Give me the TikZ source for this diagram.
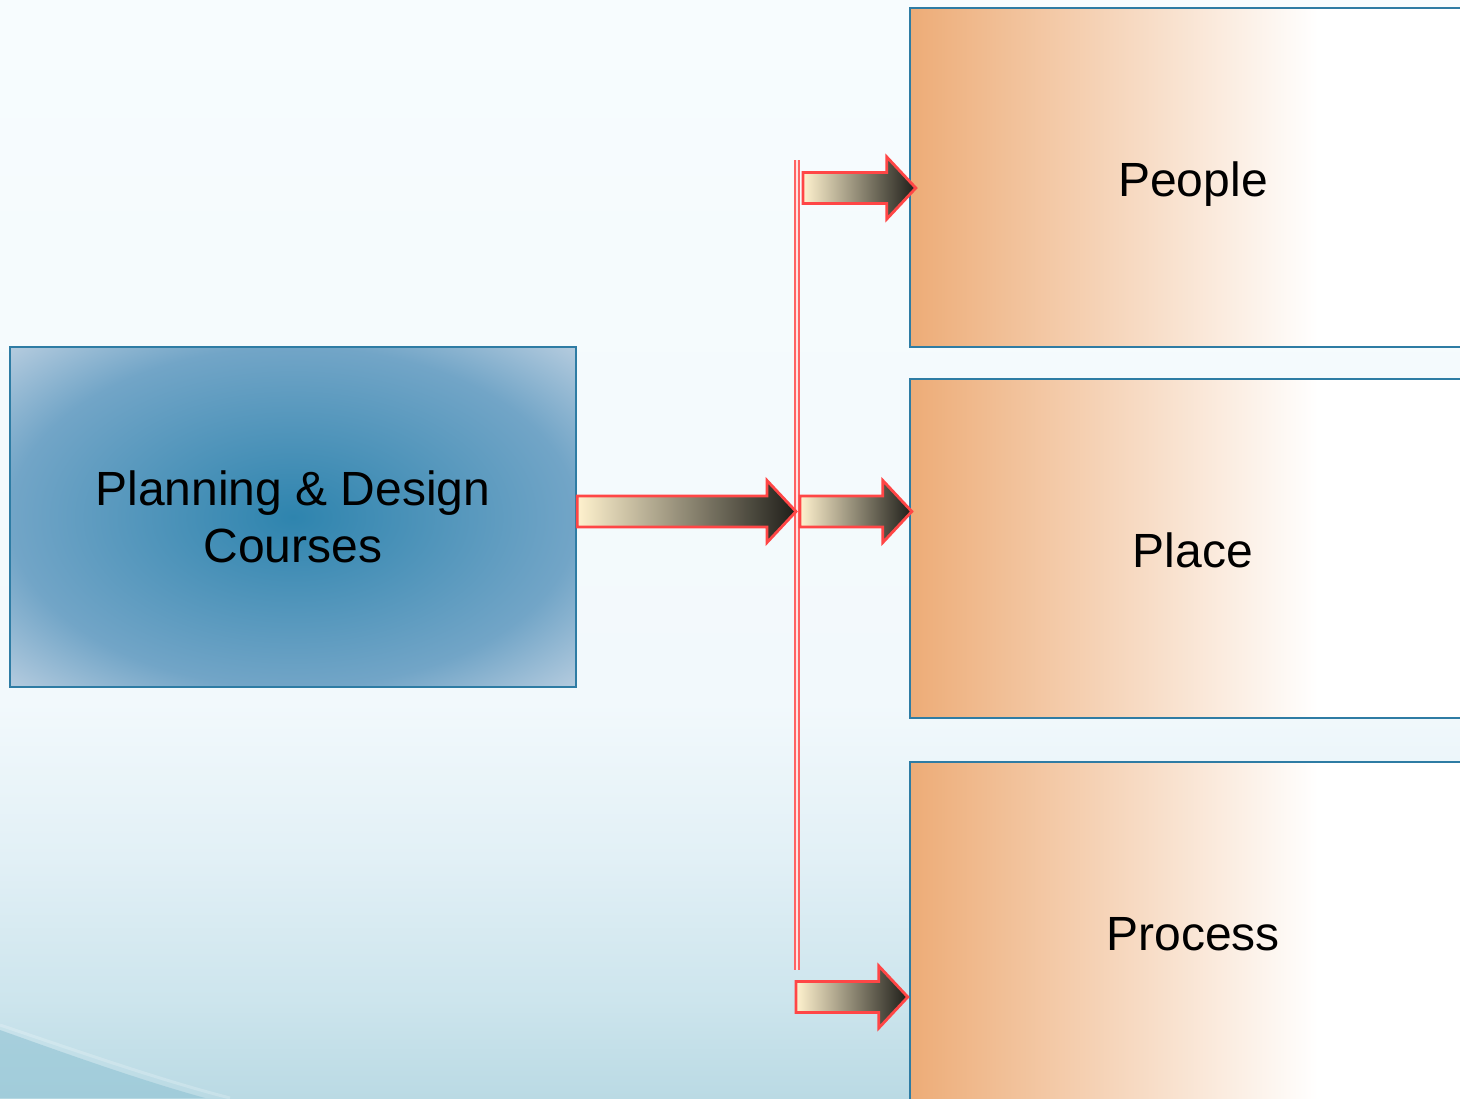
\documentclass[tikz,border=0pt]{standalone}
\usepackage{fontspec}
\setmainfont{Liberation Sans}
\usetikzlibrary{calc}

\definecolor{boxline}{HTML}{2E7CA4}
\definecolor{orng}{HTML}{EDAC77}
\definecolor{glowin}{HTML}{2E84AE}
\definecolor{glowmid}{HTML}{72A5C7}
\definecolor{glowout}{HTML}{B9CEE0}
\definecolor{arrred}{HTML}{FF4646}
\definecolor{arrlight}{HTML}{FFF2CE}
\definecolor{arrdark}{HTML}{1E1E19}
\definecolor{bgtop}{HTML}{F7FCFE}
\definecolor{bgmid}{HTML}{F2F9FC}
\definecolor{bglow}{HTML}{E2F0F6}
\definecolor{bgdeep}{HTML}{CDE5ED}
\definecolor{bgbot}{HTML}{BADAE4}
\definecolor{swoosh}{HTML}{8DC1D2}

\pgfdeclarehorizontalshading{orangefade}{100bp}{color(0bp)=(orng); color(25bp)=(orng); color(61bp)=(white); color(100bp)=(white)}
\pgfdeclareradialshading{planglow}{\pgfpoint{0bp}{0bp}}{color(0bp)=(glowin); color(25bp)=(glowmid); color(36bp)=(glowout); color(50bp)=(glowout)}
\pgfdeclareverticalshading{bgfade}{100bp}{color(0bp)=(bgbot); color(25bp)=(bgbot); color(29.5bp)=(bgdeep); color(36bp)=(bglow); color(43bp)=(bgmid); color(75bp)=(bgtop); color(100bp)=(bgtop)}

\tikzset{
  source/.style={draw=boxline, line width=1.2pt, shading=planglow, minimum width=283pt, minimum height=170pt, inner sep=0pt, align=center, font=\fontsize{24}{28.5}\selectfont},
  topic/.style={draw=boxline, line width=1.2pt, shading=orangefade, minimum width=283pt, minimum height=169.5pt, inner sep=0pt, text height=17.2pt, text depth=0pt, font=\fontsize{24}{28.5}\selectfont},
  blockarr/.style={draw=arrred, line width=1.4pt, left color=arrlight, right color=arrdark, line join=miter},
  bus/.style={draw=arrred!85, line width=0.7pt, double=white!85!arrred, double distance=1.2pt}
}

% arrow body from tail (#1) to tip (#2), both on one level
\newcommand{\blockarrow}[2]{%
  \draw[blockarr] ($(#1)+(0,-15.5)$) -- ($(#2)+(-29,-15.5)$) -- ($(#2)+(-29,-31)$)
    -- (#2) -- ($(#2)+(-29,31)$) -- ($(#2)+(-29,15.5)$) -- ($(#1)+(0,15.5)$) -- cycle;}

\begin{document}
\begin{tikzpicture}[x=0.5pt,y=-0.5pt]
        \useasboundingbox (0,0) rectangle (1460,1098);
        \clip (0,0) rectangle (1460,1098);
        \shade[shading=bgfade] (0,0) rectangle (1460,1098);
        \fill[swoosh, opacity=0.55] (0,1030) .. controls (70,1055) and (140,1080) .. (205,1098) -- (0,1098) -- cycle;
        \draw[white, opacity=0.2, line width=1.5pt] (0,1025) .. controls (80,1052) and (160,1080) .. (230,1098);

        \node[source] (plan) at (293,517) {Planning \& Design\\Courses};
        \node[topic] (people) at (1193,177.5) {\raisebox{-1pt}{People}};
        \node[topic] (place) at (1193,548.5) {\raisebox{-1pt}{Place}};
        \node[topic] (process) at (1193,931.5) {\raisebox{-1pt}{Process}};

        \coordinate (bus top) at (797,160);
        \coordinate (bus bot) at (797,970);
        \draw[bus] (bus top) -- (bus bot);

        \coordinate (main tip) at (796,511.5);
        \blockarrow{plan.east |- main tip}{main tip}

        \coordinate (pe tail) at (803,188);
        \coordinate (pl tail) at (800,511.5);
        \coordinate (pr tail) at (796,997);
        \path (people.west |- pe tail) ++(7,0) coordinate (pe tip);
        \path (place.west |- pl tail) ++(3,0) coordinate (pl tip);
        \path (process.west |- pr tail) ++(-1,0) coordinate (pr tip);
        \blockarrow{pe tail}{pe tip}
        \blockarrow{pl tail}{pl tip}
        \blockarrow{pr tail}{pr tip}
    \end{tikzpicture}
\end{document}
